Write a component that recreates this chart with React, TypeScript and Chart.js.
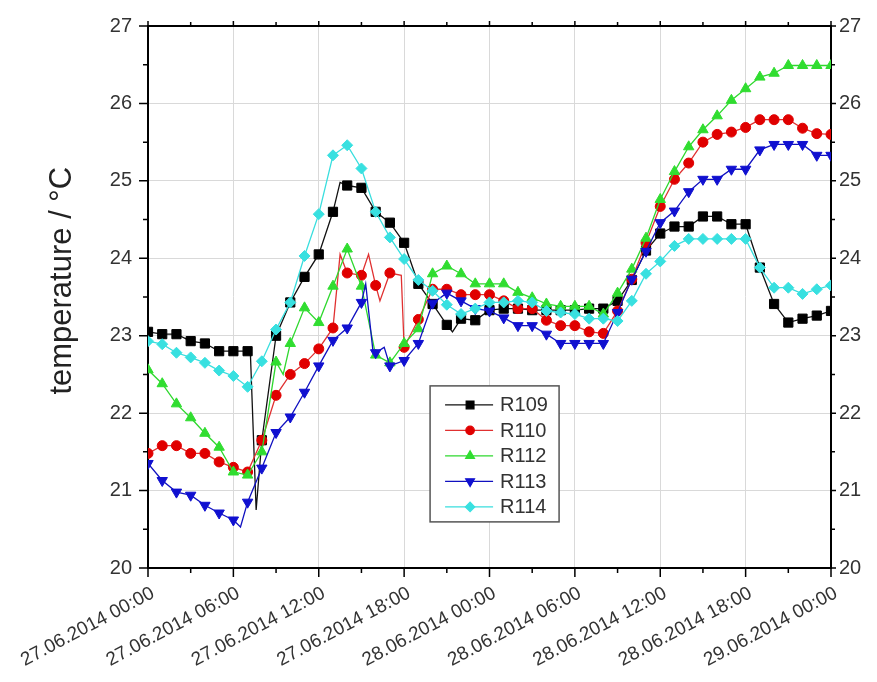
import React, { useEffect, useRef } from 'react';
import { Chart, registerables } from 'chart.js';
import { drawPoint } from 'chart.js/helpers';

Chart.register(...registerables);

const hours = [0, 1, 2, 3, 4, 5, 6, 7, 8, 9, 10, 11, 12, 13, 14, 15, 16, 17, 18, 19, 20, 21, 22, 23, 24,
  25, 26, 27, 28, 29, 30, 31, 32, 33, 34, 35, 36, 37, 38, 39, 40, 41, 42, 43, 44, 45, 46, 47, 48];

const tickLabels = [
  '27.06.2014 00:00', '27.06.2014 06:00', '27.06.2014 12:00', '27.06.2014 18:00',
  '28.06.2014 00:00', '28.06.2014 06:00', '28.06.2014 12:00', '28.06.2014 18:00',
  '29.06.2014 00:00',
];

const yTickValues = [20, 21, 22, 23, 24, 25, 26, 27];

const r109 = [23.05, 23.02, 23.02, 22.93, 22.9, 22.8, 22.8, 22.8, 21.65, 23.0, 23.43, 23.76, 24.05, 24.6, 24.94,
  24.91, 24.6, 24.46, 24.2, 23.67, 23.41, 23.14, 23.22, 23.2, 23.33, 23.35, 23.35, 23.33, 23.33, 23.33, 23.33,
  23.35, 23.35, 23.45, 23.72, 24.1, 24.32, 24.41, 24.41, 24.54, 24.54, 24.44, 24.44, 23.88, 23.41, 23.17, 23.22,
  23.26, 23.32];
const r110 = [21.48, 21.58, 21.58, 21.48, 21.48, 21.37, 21.3, 21.24, 21.65, 22.23, 22.5, 22.64, 22.83, 23.1, 23.81,
  23.78, 23.65, 23.81, 22.85, 23.21, 23.6, 23.6, 23.53, 23.53, 23.53, 23.45, 23.35, 23.35, 23.2, 23.13, 23.13,
  23.05, 23.03, 23.32, 23.73, 24.2, 24.67, 25.02, 25.23, 25.5, 25.6, 25.63, 25.69, 25.79, 25.79, 25.79, 25.68,
  25.61, 25.6];
const r112 = [22.56, 22.38, 22.12, 21.94, 21.74, 21.56, 21.24, 21.2, 21.5, 22.66, 22.9, 23.36, 23.17, 23.64, 24.12,
  23.64, 22.75, 22.65, 22.9, 23.09, 23.8, 23.9, 23.8, 23.67, 23.67, 23.67, 23.56, 23.49, 23.41, 23.38, 23.38,
  23.38, 23.28, 23.55, 23.86, 24.26, 24.76, 25.12, 25.44, 25.66, 25.84, 26.04, 26.19, 26.34, 26.39, 26.49, 26.49,
  26.49, 26.49];
const r113 = [21.35, 21.13, 20.98, 20.94, 20.81, 20.71, 20.62, 20.85, 21.29, 21.75, 21.95, 22.27, 22.61, 22.94, 23.1,
  23.43, 22.78, 22.61, 22.68, 22.9, 23.42, 23.55, 23.45, 23.35, 23.32, 23.23, 23.13, 23.13, 23.02, 22.9, 22.9,
  22.9, 22.9, 23.3, 23.73, 24.09, 24.46, 24.61, 24.86, 25.02, 25.02, 25.15, 25.15, 25.4, 25.47, 25.47, 25.47,
  25.33, 25.33];
const r114 = [22.93, 22.89, 22.78, 22.72, 22.65, 22.55, 22.48, 22.34, 22.67, 23.08, 23.43, 24.03, 24.57, 25.33, 25.46,
  25.16, 24.6, 24.27, 23.99, 23.72, 23.58, 23.4, 23.28, 23.35, 23.43, 23.43, 23.45, 23.43, 23.32, 23.3, 23.28,
  23.22, 23.22, 23.19, 23.45, 23.8, 23.96, 24.16, 24.25, 24.25, 24.25, 24.25, 24.25, 23.88, 23.62, 23.62, 23.54,
  23.6, 23.65];

// unmarked intermediate readings [hour, value]
const r109Extra = [[7.2, 22.75], [7.6, 20.75], [13.5, 24.98], [21.4, 23.05]];
const r110Extra = [[13.5, 24.05], [15.5, 24.05], [16.3, 23.45], [17.8, 23.78]];
const r112Extra = [[9.5, 22.5]];
const r113Extra = [[6.5, 20.53], [15.3, 23.67], [15.8, 22.82], [16.6, 22.85]];
const r114Extra: number[][] = [];

type Series = {
  name: string; values: number[]; extra: number[][]; line: string; fill: string;
  style: string; rotation: number; radius: number;
};

const series: Series[] = [
  { name: 'R109', values: r109, extra: r109Extra, line: '#111111', fill: '#000000', style: 'rect', rotation: 0, radius: 6.5 },
  { name: 'R110', values: r110, extra: r110Extra, line: '#e03030', fill: '#e00000', style: 'circle', rotation: 0, radius: 5 },
  { name: 'R112', values: r112, extra: r112Extra, line: '#2ed82e', fill: '#30dd30', style: 'triangle', rotation: 0, radius: 6 },
  { name: 'R113', values: r113, extra: r113Extra, line: '#1010c0', fill: '#1010d0', style: 'triangle', rotation: 180, radius: 6 },
  { name: 'R114', values: r114, extra: r114Extra, line: '#38dede', fill: '#38e0e0', style: 'rectRot', rotation: 0, radius: 5.5 },
];

function buildPoints(values: number[], extra: number[][]) {
  const pts = hours.map((h, i) => ({ x: h, y: values[i], m: true }));
  extra.forEach(([x, y]) => pts.push({ x, y, m: false }));
  pts.sort((a, b) => a.x - b.x);
  return pts;
}

const FONT = '"Liberation Sans", Arial, sans-serif';

const overlayPlugin = {
  id: 'overlay',
  afterDraw(chart: any) {
    const { ctx, chartArea } = chart;
    const w = chartArea.right - chartArea.left;
    const h = chartArea.bottom - chartArea.top;

    // outward tick marks, major and minor
    ctx.save();
    ctx.strokeStyle = '#000';
    ctx.lineWidth = 1.5;
    ctx.beginPath();
    chart.scales.x.ticks.forEach((t: any) => {
      const px = chart.scales.x.getPixelForValue(t.value);
      const major = t.value % 6 === 0;
      const lb = major ? 9 : 5;
      const lt = major ? 5 : 4;
      ctx.moveTo(px, chartArea.bottom);
      ctx.lineTo(px, chartArea.bottom + lb);
      ctx.moveTo(px, chartArea.top);
      ctx.lineTo(px, chartArea.top - lt);
    });
    chart.scales.y.ticks.forEach((t: any) => {
      const py = chart.scales.y.getPixelForValue(t.value);
      const major = yTickValues.includes(t.value);
      const ll = major ? 9 : 5;
      const lr = major ? 5 : 4;
      ctx.moveTo(chartArea.left, py);
      ctx.lineTo(chartArea.left - ll, py);
      ctx.moveTo(chartArea.right, py);
      ctx.lineTo(chartArea.right + lr, py);
    });
    ctx.stroke();
    ctx.restore();

    // axis title
    ctx.save();
    ctx.fillStyle = '#222';
    ctx.font = `31px ${FONT}`;
    ctx.textAlign = 'center';
    ctx.textBaseline = 'middle';
    ctx.translate(62, chartArea.top + h * 0.47);
    ctx.rotate(-Math.PI / 2);
    ctx.fillText('temperature / °C', 0, 0);
    ctx.restore();

    // legend
    ctx.save();
    const bx = chartArea.left + w * 0.413;
    const by = chartArea.top + h * 0.664;
    const bw = 129;
    const bh = 136;
    ctx.fillStyle = '#fff';
    ctx.fillRect(bx, by, bw, bh);
    ctx.strokeStyle = '#555';
    ctx.lineWidth = 1.5;
    ctx.strokeRect(bx, by, bw, bh);
    series.forEach((s, i) => {
      const cy = by + 19 + i * 25.5;
      ctx.strokeStyle = s.line;
      ctx.lineWidth = 1.2;
      ctx.beginPath();
      ctx.moveTo(bx + 15, cy);
      ctx.lineTo(bx + 63, cy);
      ctx.stroke();
      ctx.fillStyle = s.fill;
      ctx.strokeStyle = s.fill;
      drawPoint(ctx, { pointStyle: s.style, rotation: s.rotation, radius: s.radius * 0.85, borderWidth: 1 } as any, bx + 40, cy);
      ctx.fillStyle = '#333';
      ctx.font = `20px ${FONT}`;
      ctx.textAlign = 'left';
      ctx.textBaseline = 'middle';
      ctx.fillText(s.name, bx + 70, cy + 1);
    });
    ctx.restore();
  },
};

export default function App() {
  const ref = useRef<HTMLCanvasElement>(null);
  useEffect(() => {
    if (!ref.current) return;
    const gridColor = '#d9d9d9';
    const chart = new Chart(ref.current, {
      type: 'line',
      data: {
        datasets: series.map((s, i) => ({
          label: s.name,
          data: buildPoints(s.values, s.extra),
          borderColor: s.line,
          backgroundColor: s.fill,
          pointBackgroundColor: s.fill,
          pointBorderColor: s.fill,
          pointBorderWidth: 1,
          borderWidth: 1.3,
          pointStyle: s.style as any,
          rotation: s.rotation,
          pointRadius: (c: any) => (c.raw && c.raw.m ? s.radius : 0),
          tension: 0,
          order: series.length - i,
        })),
      },
      options: {
        animation: false,
        responsive: true,
        maintainAspectRatio: false,
        parsing: false as any,
        layout: { padding: 0, autoPadding: false },
        plugins: { legend: { display: false }, tooltip: { enabled: false } },
        scales: {
          x: {
            type: 'linear', position: 'bottom', min: 0, max: 48,
            afterFit: (sc: any) => { sc.height = 114; },
            border: { color: '#000', width: 2 },
            grid: {
              color: (c: any) => (c.tick && c.tick.value % 6 === 0 ? gridColor : 'rgba(0,0,0,0)'),
              drawTicks: false,
            },
            ticks: {
              stepSize: 3, autoSkip: false, maxRotation: 28, minRotation: 28,
              color: '#333', font: { family: FONT, size: 19 }, padding: 14, labelOffset: 5,
              callback: (v: any) => (Number(v) % 6 === 0 ? tickLabels[Number(v) / 6] : ''),
            },
          },
          x2: {
            type: 'linear', position: 'top', min: 0, max: 48,
            afterFit: (sc: any) => { sc.height = 22; },
            border: { color: '#000', width: 2 },
            grid: { drawOnChartArea: false, drawTicks: false },
            ticks: { stepSize: 3, display: false },
          },
          y: {
            type: 'linear', position: 'left', min: 20, max: 27,
            afterFit: (sc: any) => { sc.width = 148; },
            border: { color: '#000', width: 2 },
            grid: {
              color: (c: any) => (c.tick && yTickValues.includes(c.tick.value) ? gridColor : 'rgba(0,0,0,0)'),
              drawTicks: false,
            },
            ticks: {
              stepSize: 0.5, autoSkip: false, color: '#333', font: { family: FONT, size: 20, lineHeight: 1 }, padding: 16,
              callback: (v: any) => (yTickValues.includes(Number(v)) ? String(v) : ''),
            },
          },
          y2: {
            type: 'linear', position: 'right', min: 20, max: 27,
            afterFit: (sc: any) => { sc.width = 46; },
            border: { color: '#000', width: 2 },
            grid: { drawOnChartArea: false, drawTicks: false },
            ticks: {
              stepSize: 0.5, autoSkip: false, color: '#333', font: { family: FONT, size: 20, lineHeight: 1 }, padding: 8,
              callback: (v: any) => (yTickValues.includes(Number(v)) ? String(v) : ''),
            },
          },
        },
      } as any,
      plugins: [overlayPlugin],
    });
    return () => chart.destroy();
  }, []);
  return (
    <div style={{ position: 'fixed', left: 0, top: 0, width: 877, height: 682, background: '#fff' }}>
      <canvas ref={ref} />
    </div>
  );
}
